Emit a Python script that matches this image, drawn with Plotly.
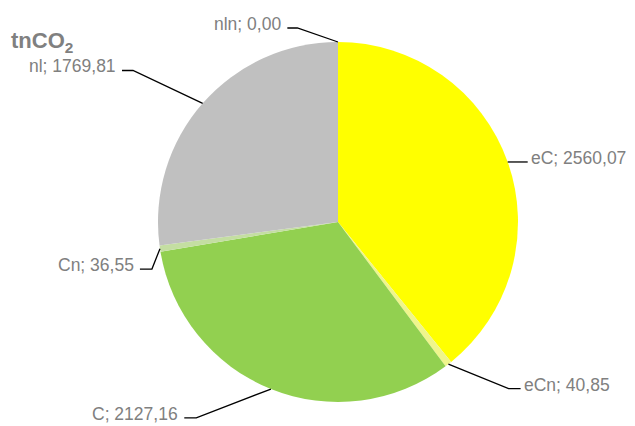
import math
import plotly.graph_objects as go

# ---- data ----
categories = ["eC", "eCn", "C", "Cn", "nl", "nln"]
values = [2560.07, 40.85, 2127.16, 36.55, 1769.81, 0.00]
colors = ["#FFFF00", "#EFF58C", "#92D050", "#C4DEA2", "#C0C0C0", "#A6A6A6"]

# leader style per slice: (angle offset from mid-angle in deg, leader length px, horizontal tail px)
leader_style = [(0, 0, 20), (-30, 65, 12), (47, 80, 12), (-60, 22, 12), (-16, 77, 11), (-71, 43, 10)]

W, H = 635, 426
CX, CY, R = 338, 222, 180

fig = go.Figure(go.Pie(
    labels=categories, values=values, sort=False, direction="clockwise", rotation=0,
    marker=dict(colors=colors, line=dict(width=0)), textinfo="none", hoverinfo="label+value",
    domain=dict(x=[(CX - R) / W, (CX + R) / W], y=[(H - CY - R) / H, (H - CY + R) / H]),
    showlegend=False,
))

def px(x, y):
    return x / W, 1 - y / H

total = sum(values)
cum = 0.0
shapes, annotations = [], []
for cat, v, (doff, L, tail) in zip(categories, values, leader_style):
    mid = (cum + v / 2) / total * 360.0
    cum += v
    a = math.radians(mid)
    ex, ey = CX + R * math.sin(a), CY - R * math.cos(a)
    b = math.radians(mid + doff)
    kx, ky = ex + L * math.sin(b), ey - L * math.cos(b)
    side = 1 if math.sin(a) > 1e-6 else -1
    tx = kx + side * tail
    p0, p1, p2 = px(ex, ey), px(kx, ky), px(tx, ky)
    shapes.append(dict(type="path", xref="paper", yref="paper",
                       path=f"M {p0[0]},{p0[1]} L {p1[0]},{p1[1]} L {p2[0]},{p2[1]}",
                       line=dict(color="black", width=1.3)))
    label = f"{cat}; {v:.2f}".replace(".", ",")
    lx = tx + (1 if side > 0 else -4)
    ax_, ay_ = px(lx, ky - 4)
    annotations.append(dict(x=ax_, y=ay_, xref="paper", yref="paper", text=label, showarrow=False,
                            xanchor="left" if side > 0 else "right", yanchor="middle",
                            font=dict(family="Liberation Sans, Arial", size=17.5, color="#808080")))

annotations.append(dict(x=9 / W, y=1 - 42 / H, xref="paper", yref="paper", text="<b>tnCO<sub>2</sub></b>",
                        showarrow=False, xanchor="left", yanchor="middle",
                        font=dict(family="Liberation Sans, Arial", size=22, color="#808080")))

fig.update_layout(width=W, height=H, margin=dict(l=0, r=0, t=0, b=0),
                  paper_bgcolor="white", plot_bgcolor="white",
                  shapes=shapes, annotations=annotations)
fig.write_html("out.html", config={"displayModeBar": False},
               post_script="document.body.style.margin='0';")
